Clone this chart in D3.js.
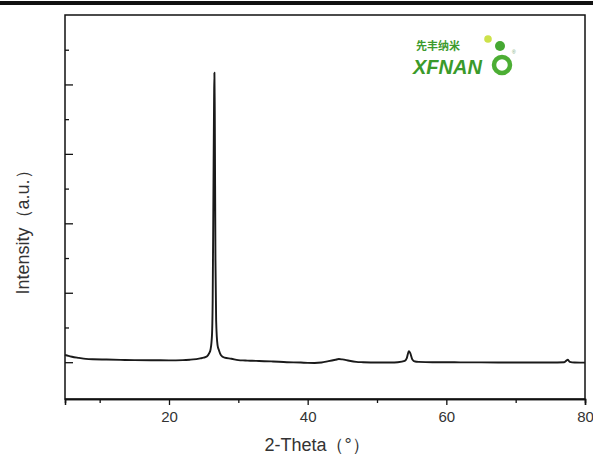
<!DOCTYPE html>
<html><head><meta charset="utf-8">
<script src="https://cdn.jsdelivr.net/npm/d3@7"></script>
<style>body{margin:0;background:#fff}svg{display:block}</style>
</head><body>
<script>
// 2-Theta (deg) and intensity (a.u.)
const twoTheta = [5,5.5,6,7,8,9,11,13,15,18,20,22,23,23.5,24.5,25,25.5,25.8,26,26.2,26.3,26.4,26.5,26.55,26.6,26.7,26.8,27,27.2,27.5,28,29,30,31,32,33,35,37,39,40,41,42,43,44,44.5,45,46,47,48,50,52,53,54,54.3,54.6,54.8,55.1,55.5,56,58,60,62,65,70,75,77,77.5,77.8,78.5,80];
const intensity = [105,90,78,62,48,42,38,34,30,28,26,30,36,40,55,65,86,130,187,390,890,2330,3770,4170,3630,1470,600,245,173,100,65,50,30,25,20,18,10,0,-5,-10,-12,-5,15,35,45,40,20,5,0,-5,-5,0,20,60,160,130,40,10,5,0,0,-2,-3,-4,-5,0,35,5,-5,-6];
const xTicksMajor = [20,40,60,80];
const xTicksMinor = [10,30,50,70];
const yTicksMajor = [0,1000,2000,3000,4000];
const yTicksMinor = [500,1500,2500,3500,4500];
const xLabel = "2-Theta（°）";
const yLabel = "Intensity（a.u.）";

const W = 593, H = 456;
const m = {left:65, right:585, top:15, bottom:399};
const svg = d3.select("body").append("svg").attr("width",W).attr("height",H);

svg.append("rect").attr("x",0).attr("y",1).attr("width",W).attr("height",4).attr("fill","#111");

const x = d3.scaleLinear().domain([5,80]).range([m.left,m.right]);
const y = d3.scaleLinear().domain([-530,5000]).range([m.bottom,m.top]);

const font = "'Liberation Sans', Arial, sans-serif";

// x axis
const gx = svg.append("g").attr("transform",`translate(0,${m.bottom})`);
gx.call(d3.axisBottom(x).tickValues(xTicksMajor).tickSize(6).tickFormat(d3.format("d")));
gx.append("g").call(d3.axisBottom(x).tickValues(xTicksMinor).tickSize(4).tickFormat(""));
gx.selectAll(".domain").attr("stroke","#111").attr("stroke-width",1.5);
gx.selectAll("line").attr("stroke","#111").attr("stroke-width",1.3);
gx.selectAll("text").attr("font-family",font).attr("font-size",15).attr("fill","#333").attr("dy","0.9em");

// y axis (ticks inward)
const gy = svg.append("g").attr("transform",`translate(${m.left},0)`);
gy.call(d3.axisRight(y).tickValues(yTicksMajor).tickSize(8).tickFormat(""));
gy.append("g").call(d3.axisRight(y).tickValues(yTicksMinor).tickSize(4).tickFormat(""));
gy.selectAll(".domain").remove();
gy.selectAll("line").attr("stroke","#111").attr("stroke-width",1.3);

// frame
svg.append("rect").attr("x",m.left).attr("y",m.top).attr("width",m.right-m.left).attr("height",m.bottom-m.top)
  .attr("fill","none").attr("stroke","#111").attr("stroke-width",1.5);

// curve
const data = twoTheta.map((t,i)=>({t, v:intensity[i]}));
svg.append("path").datum(data)
  .attr("d", d3.line().x(d=>x(d.t)).y(d=>y(d.v)).curve(d3.curveMonotoneX))
  .attr("fill","none").attr("stroke","#1a1a1a").attr("stroke-width",1.9).attr("stroke-linejoin","round");

// titles
svg.append("text").attr("x",(m.left+m.right)/2-8).attr("y",451).attr("text-anchor","middle")
  .attr("font-family",font).attr("font-size",18).attr("fill","#333").text(xLabel);
svg.append("text").attr("transform","translate(29,228) rotate(-90)").attr("text-anchor","middle")
  .attr("font-family",font).attr("font-size",18).attr("fill","#333").text(yLabel);

// logo
const logo = svg.append("g");
logo.append("text").attr("x",416).attr("y",50).attr("font-family","'Noto Sans CJK SC'").attr("font-size",11)
  .attr("font-weight","bold").attr("fill","#3c9a2c").text("先丰纳米");
logo.append("text").attr("x",413).attr("y",74).attr("font-family",font).attr("font-size",20)
  .attr("font-weight","bold").attr("font-style","italic").attr("fill","#3a9a2a").text("XFNAN");
logo.append("circle").attr("cx",502).attr("cy",65).attr("r",8).attr("fill","none").attr("stroke","#4cae34").attr("stroke-width",4.5);
logo.append("circle").attr("cx",500).attr("cy",46).attr("r",5).attr("fill","#45a832");
logo.append("circle").attr("cx",488).attr("cy",39).attr("r",3.8).attr("fill","#cde24a");
logo.append("text").attr("x",512).attr("y",54).attr("font-family",font).attr("font-size",5).attr("fill","#7a7").text("®");
</script>
</body></html>
